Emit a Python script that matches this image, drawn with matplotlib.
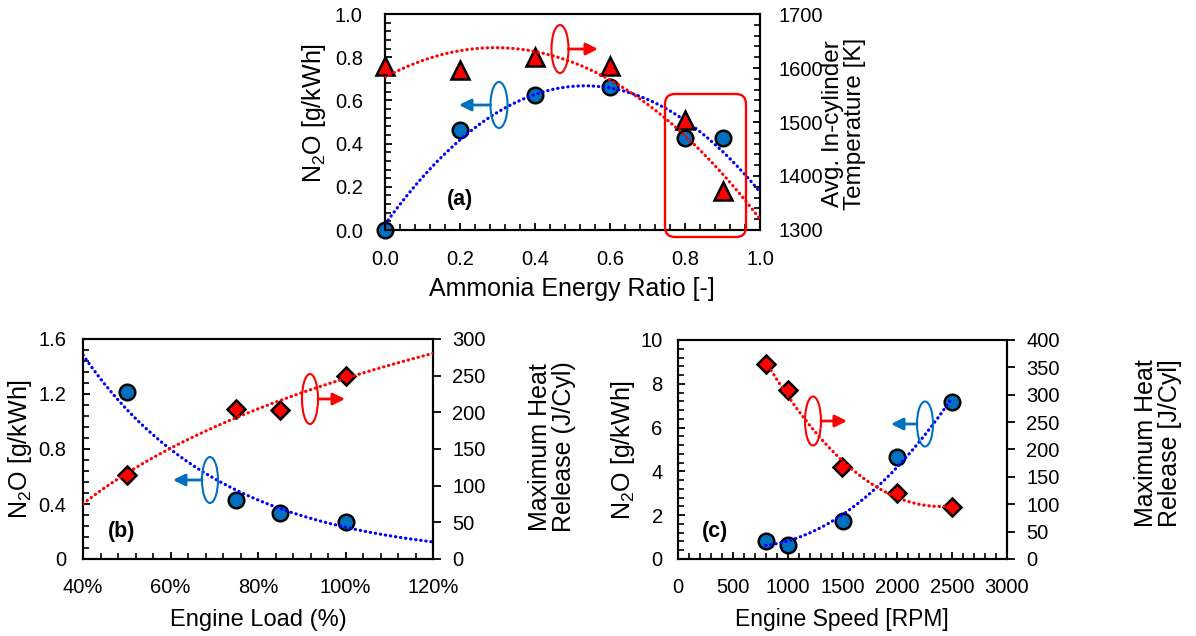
import numpy as np
import matplotlib
matplotlib.use("Agg")
import matplotlib.pyplot as plt
from matplotlib.transforms import Affine2D
from matplotlib.patches import Ellipse, FancyBboxPatch, FancyArrowPatch
from matplotlib.ticker import MultipleLocator, FuncFormatter

plt.rcParams['font.family'] = ['Liberation Sans', 'DejaVu Sans']
plt.rcParams['mathtext.fontset'] = 'custom'
plt.rcParams['mathtext.rm'] = 'Liberation Sans'
plt.rcParams['mathtext.it'] = 'Liberation Sans:italic'

# ---------------- data ----------------
# (a) ammonia energy ratio sweep
a_ratio = [0.0, 0.2, 0.4, 0.6, 0.8, 0.9]
a_n2o = [0.0, 0.463, 0.625, 0.66, 0.427, 0.424]
a_temp = [1604, 1597, 1620, 1604, 1504, 1373]

# (b) engine load sweep (%)
b_load = [50, 75, 85, 100]
b_n2o = [1.212, 0.427, 0.335, 0.267]
b_hr = [115, 204.5, 203.6, 249]

# (c) engine speed sweep (RPM)
c_speed = [800, 1000, 1500, 2000, 2500]
c_n2o = [0.84, 0.62, 1.73, 4.65, 7.19]
c_hr = [355.6, 308.8, 167.8, 120.4, 94.8]

BLUE_FILL = '#0070C0'
BLUE_TREND = '#0000FF'
RED = '#FF0000'

W, H = 1196, 636
fig = plt.figure(figsize=(W / 100, H / 100), dpi=100)
pix = Affine2D().scale(0.01, -0.01).translate(0, H / 100) + fig.dpi_scale_trans


def add_axes_px(x0, y0, x1, y1):
    return fig.add_axes([x0 / W, 1 - y1 / H, (x1 - x0) / W, (y1 - y0) / H])


def style_axes(ax, pad_left, pad_bottom):
    for s in ax.spines.values():
        s.set_linewidth(1.5)
    ax.tick_params(axis='both', which='major', direction='in', length=5, width=1.3,
                   labelsize=14.5)
    ax.tick_params(axis='both', which='minor', direction='in', length=4, width=1.2)
    ax.tick_params(axis='y', which='major', pad=pad_left)
    ax.tick_params(axis='x', which='major', pad=pad_bottom)
    ax.tick_params(top=False, right=False, which='both')


dot = dict(linestyle=(0, (0.1, 1.5)), dash_capstyle='round', linewidth=2.3, zorder=4)
circ = dict(marker='o', ms=11.2, mfc=BLUE_FILL, mec='black', mew=1.8, linestyle='none',
            zorder=3, clip_on=False)
tri = dict(marker='^', ms=12.5, mfc=RED, mec='black', mew=1.8, linestyle='none',
           zorder=3, clip_on=False)
dia = dict(marker='D', ms=9, mfc=RED, mec='black', mew=1.8, linestyle='none',
           zorder=3, clip_on=False)


def loop_arrow(cx, cy, w, h, x_end, color):
    e = Ellipse((cx, cy), w, h, transform=pix, fill=False, edgecolor=color, lw=1.5)
    fig.add_artist(e)
    start = cx + w / 2 if x_end > cx else cx - w / 2
    arr = FancyArrowPatch((start, cy), (x_end, cy), transform=pix, arrowstyle='-|>',
                          mutation_scale=18, color=color, lw=2.0, shrinkA=0, shrinkB=0)
    fig.add_artist(arr)


# ---------------- panel (a) ----------------
axa = add_axes_px(385, 14, 760, 230)
style_axes(axa, 16, 14.5)
axa.plot(a_ratio, a_n2o, **circ)
xa = np.linspace(0, 1.0, 200)
pa_n = np.polyfit(a_ratio, a_n2o, 2)
axa.plot(xa, np.polyval(pa_n, xa), color=BLUE_TREND, **dot)
axa.set_xlim(0, 1.0)
axa.set_ylim(0, 1.0)
axa.xaxis.set_major_locator(MultipleLocator(0.2))
axa.xaxis.set_minor_locator(MultipleLocator(0.04))
axa.yaxis.set_major_locator(MultipleLocator(0.2))
axa.yaxis.set_minor_locator(MultipleLocator(0.04))
axa.xaxis.set_major_formatter(FuncFormatter(lambda v, p: f'{v:.1f}'))
axa.yaxis.set_major_formatter(FuncFormatter(lambda v, p: f'{v:.1f}'))
axa.set_xlabel('Ammonia Energy Ratio [-]', fontsize=18)
axa.xaxis.set_label_coords(572, 296, transform=pix)
axa.xaxis.label.set_va('baseline')
axa.set_ylabel('N$_2$O [g/kWh]', fontsize=18, va='center', ha='center', rotation_mode='default')
axa.yaxis.set_label_coords(314, 113, transform=pix)

axa2 = axa.twinx()
axa2.plot(a_ratio, a_temp, **tri)
pa_t = np.polyfit(a_ratio, a_temp, 2)
axa2.plot(xa, np.polyval(pa_t, xa), color=RED, **dot)
axa2.set_ylim(1300, 1700)
axa2.yaxis.set_major_locator(MultipleLocator(100))
axa2.yaxis.set_minor_locator(MultipleLocator(20))
axa2.tick_params(axis='y', which='major', direction='in', length=5, width=1.3, labelsize=14.5,
                 pad=13, left=False, right=True)
axa2.tick_params(axis='y', which='minor', direction='in', length=4, width=1.2, left=False, right=True)
axa2.set_ylabel('Avg. In-cylinder\nTemperature [K]', fontsize=17.5, va='center', ha='center',
                rotation=90, rotation_mode='default', multialignment='center', linespacing=1.05)
axa2.yaxis.set_label_coords(844, 124, transform=pix)
for s in axa2.spines.values():
    s.set_linewidth(1.5)

rect = FancyBboxPatch((665, 94), 81, 143, boxstyle='round,pad=0,rounding_size=10',
                      transform=pix, fill=False, edgecolor=RED, lw=1.7, zorder=10)
fig.add_artist(rect)
fig.text(460, 199, '(a)', transform=pix, fontsize=15.5, fontweight='bold', ha='center', va='center')
loop_arrow(560, 49, 17, 48, 598, RED)
loop_arrow(499, 105, 17, 46, 459, BLUE_FILL)

# ---------------- panel (b) ----------------
axb = add_axes_px(83, 339, 433, 559)
style_axes(axb, 12, 13.5)
axb.plot(b_load, b_n2o, **circ)
xb = np.linspace(40, 120, 200)
kb = np.polyfit(b_load, np.log(b_n2o), 1)
axb.plot(xb, np.exp(np.polyval(kb, xb)), color=BLUE_TREND, **dot)
axb.set_xlim(40, 120)
axb.set_ylim(0, 1.6)
axb.xaxis.set_major_locator(MultipleLocator(20))
axb.xaxis.set_minor_locator(MultipleLocator(4))
axb.yaxis.set_major_locator(MultipleLocator(0.4))
axb.yaxis.set_minor_locator(MultipleLocator(0.08))
axb.xaxis.set_major_formatter(FuncFormatter(lambda v, p: f'{v:.0f}%'))
axb.yaxis.set_major_formatter(FuncFormatter(lambda v, p: '0' if abs(v) < 1e-9 else f'{v:.1f}'))
axb.set_xlabel('Engine Load (%)', fontsize=17)
axb.xaxis.set_label_coords(258, 626, transform=pix)
axb.xaxis.label.set_va('baseline')
axb.set_ylabel('N$_2$O [g/kWh]', fontsize=18, va='center', ha='center', rotation_mode='default')
axb.yaxis.set_label_coords(20, 449, transform=pix)

axb2 = axb.twinx()
axb2.plot(b_load, b_hr, **dia)
lb = np.polyfit(np.log(b_load), b_hr, 1)
axb2.plot(xb, np.polyval(lb, np.log(xb)), color=RED, **dot)
axb2.set_ylim(0, 300)
axb2.yaxis.set_major_locator(MultipleLocator(50))
axb2.tick_params(axis='y', which='major', direction='out', length=6, width=1.3, labelsize=14.5,
                 pad=8, left=False, right=True)
axb2.tick_params(axis='y', which='minor', left=False, right=False)
axb2.set_ylabel('Maximum Heat\nRelease (J/Cyl)', fontsize=18, va='center', ha='center',
                rotation=90, rotation_mode='default', multialignment='center', linespacing=1.0)
axb2.yaxis.set_label_coords(552, 447, transform=pix)
for s in axb2.spines.values():
    s.set_linewidth(1.5)

fig.text(122, 532, '(b)', transform=pix, fontsize=15.5, fontweight='bold', ha='center', va='center')
loop_arrow(310, 399, 16, 50, 345, RED)
loop_arrow(210, 480, 16, 46, 173, BLUE_FILL)

# ---------------- panel (c) ----------------
axc = add_axes_px(678, 340, 1007, 559)
style_axes(axc, 11, 13.5)
axc.plot(c_speed, c_n2o, **circ)
xc = np.linspace(min(c_speed), max(c_speed), 200)
pc_n = np.polyfit(c_speed, c_n2o, 2)
axc.plot(xc, np.polyval(pc_n, xc), color=BLUE_TREND, **dot)
axc.set_xlim(0, 3000)
axc.set_ylim(0, 10)
axc.xaxis.set_major_locator(MultipleLocator(500))
axc.xaxis.set_minor_locator(MultipleLocator(100))
axc.yaxis.set_major_locator(MultipleLocator(2))
axc.yaxis.set_minor_locator(MultipleLocator(0.4))
axc.xaxis.set_major_formatter(FuncFormatter(lambda v, p: f'{v:.0f}'))
axc.yaxis.set_major_formatter(FuncFormatter(lambda v, p: f'{v:.0f}'))
axc.set_xlabel('Engine Speed [RPM]', fontsize=16.5)
axc.xaxis.set_label_coords(842, 626, transform=pix)
axc.xaxis.label.set_va('baseline')
axc.set_ylabel('N$_2$O [g/kWh]', fontsize=18, va='center', ha='center', rotation_mode='default')
axc.yaxis.set_label_coords(623, 450, transform=pix)

axc2 = axc.twinx()
axc2.plot(c_speed, c_hr, **dia)
pc_h = np.polyfit(c_speed, c_hr, 2)
axc2.plot(xc, np.polyval(pc_h, xc), color=RED, **dot)
axc2.set_ylim(0, 400)
axc2.yaxis.set_major_locator(MultipleLocator(50))
axc2.tick_params(axis='y', which='major', direction='out', length=6, width=1.3, labelsize=14.5,
                 pad=8, left=False, right=True)
axc2.tick_params(axis='y', which='minor', left=False, right=False)
axc2.set_ylabel('Maximum Heat\nRelease [J/Cyl]', fontsize=18, va='center', ha='center',
                rotation=90, rotation_mode='default', multialignment='center', linespacing=1.0)
axc2.yaxis.set_label_coords(1158, 443, transform=pix)
for s in axc2.spines.values():
    s.set_linewidth(1.5)

fig.text(715, 532, '(c)', transform=pix, fontsize=15.5, fontweight='bold', ha='center', va='center')
loop_arrow(813, 421, 16, 49, 847, RED)
loop_arrow(925, 424, 16, 45, 891, BLUE_FILL)

fig.savefig('out.png', dpi=100)
